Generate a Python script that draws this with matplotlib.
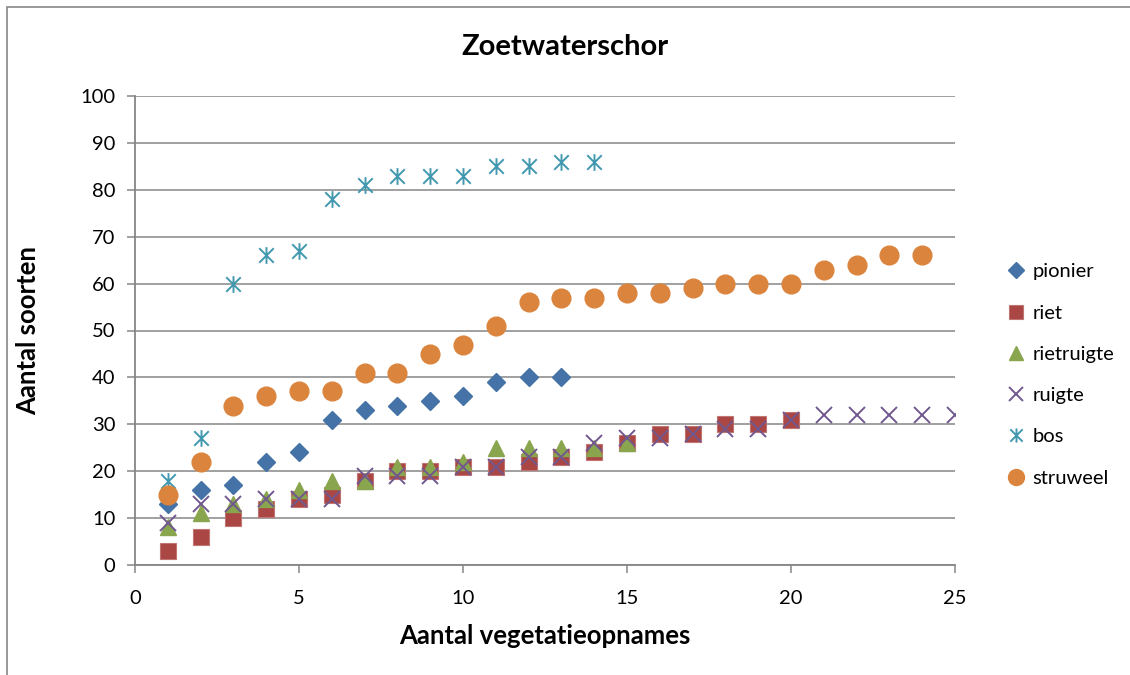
import matplotlib.pyplot as plt
from matplotlib.path import Path
from matplotlib.patches import Rectangle

plt.rcParams['font.family'] = ['Lato', 'DejaVu Sans']

# aantal vegetatieopnames vs aantal soorten, per vegetatietype
pionier = [13, 16, 17, 22, 24, 31, 33, 34, 35, 36, 39, 40, 40]
riet = [3, 6, 10, 12, 14, 15, 18, 20, 20, 21, 21, 22, 23, 24, 26, 28, 28, 30, 30, 31]
rietruigte = [8, 11, 13, 14, 16, 18, 18, 21, 21, 22, 25, 25, 25, 25, 26]
ruigte = [9, 13, 13, 14, 14, 14, 19, 19, 19, 21, 21, 23, 23, 26, 27, 27, 28, 29, 29, 31,
          32, 32, 32, 32, 32]
bos = [18, 27, 60, 66, 67, 78, 81, 83, 83, 83, 85, 85, 86, 86]
struweel = [15, 22, 34, 36, 37, 37, 41, 41, 45, 47, 51, 56, 57, 57, 58, 58, 59, 60, 60, 60,
            63, 64, 66, 66]

M, L = Path.MOVETO, Path.LINETO
star = Path([(-1, -1), (1, 1), (-1, 1), (1, -1), (0, -1.15), (0, 1.15)],
            [M, L, M, L, M, L])

series = [
    ("pionier", pionier, dict(marker="D", ms=9.3, color="#4572A7", mec="#4572A7")),
    ("riet", riet, dict(marker="s", ms=12, color="#AA4643", mec="#C07572", mew=0.8)),
    ("rietruigte", rietruigte, dict(marker="^", ms=12, color="#89A54E", mec="#89A54E")),
    ("ruigte", ruigte, dict(marker="x", ms=12, color="#71588F", mew=1.4)),
    ("bos", bos, dict(marker=star, ms=12, color="#4198AF", mfc="none", mew=1.4)),
    ("struweel", struweel, dict(marker="o", ms=13.5, color="#DB843D", mec="#DB843D")),
]

fig = plt.figure(figsize=(11.3, 6.75), dpi=100)
ax = fig.add_axes([135 / 1130, 1 - 565 / 675, 820 / 1130, 469 / 675])

for name, ys, style in series:
    xs = list(range(1, len(ys) + 1))
    ax.plot(xs, ys, linestyle="none", label=name, **style)

ax.set_xlim(0, 25)
ax.set_ylim(0, 100)
ax.set_xticks(range(0, 26, 5))
ax.set_yticks(range(0, 101, 10))
ax.yaxis.grid(True, color="#868686", linewidth=1.1)
ax.set_axisbelow(True)
for side in ["top", "right"]:
    ax.spines[side].set_visible(False)
for side in ["left", "bottom"]:
    ax.spines[side].set_color("#868686")
    ax.spines[side].set_linewidth(1.3)
ax.tick_params(colors="#868686", labelcolor="black", labelsize=14.5, length=6, width=1.1)
ax.tick_params(axis="x", pad=12)
ax.tick_params(axis="y", pad=8)

ax.set_xlabel("Aantal vegetatieopnames", fontsize=18.5, fontweight="bold", labelpad=12)
ax.set_ylabel("Aantal soorten", fontsize=18.5, fontweight="bold")
ax.yaxis.set_label_coords(-95 / 820, 0.5)
fig.text(0.5, 1 - 47 / 675, "Zoetwaterschor", ha="center", va="center",
         fontsize=21, fontweight="bold")

leg = fig.legend(loc="center left", bbox_to_anchor=(990 / 1130, 1 - 375 / 675),
                 frameon=False, fontsize=14.5, handlelength=0.8, handletextpad=0.4,
                 labelspacing=1.2, markerscale=0.85)

fig.patches.append(Rectangle((7 / 1130, -0.1), 1.2, 1 - 7 / 675 + 0.1,
                             transform=fig.transFigure, fill=False,
                             edgecolor="#868686", linewidth=1.2))

fig.savefig("out.png", dpi=100)
